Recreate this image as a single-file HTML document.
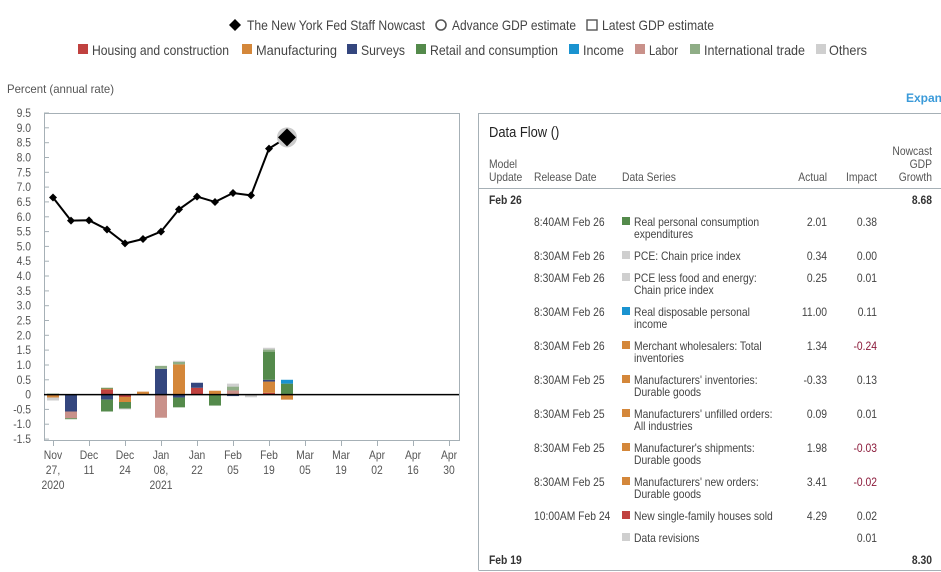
<!DOCTYPE html>
<html><head><meta charset="utf-8"><style>
body{margin:0;background:#fff;}
svg{display:block;font-family:"Liberation Sans Narrow","Liberation Sans",sans-serif;}
</style></head><body>
<svg id="s" width="941" height="572" xmlns="http://www.w3.org/2000/svg">
<g font-size="14" fill="#444">
<path d="M235 19 l6 6 -6 6 -6 -6z" fill="#000"/>
<text x="247" y="30" textLength="178" lengthAdjust="spacingAndGlyphs">The New York Fed Staff Nowcast</text>
<circle cx="441" cy="25" r="5" fill="none" stroke="#555" stroke-width="1.6"/>
<text x="452" y="30" textLength="124" lengthAdjust="spacingAndGlyphs">Advance GDP estimate</text>
<rect x="587" y="20" width="10" height="10" fill="none" stroke="#555" stroke-width="1.4"/>
<text x="602" y="30" textLength="112" lengthAdjust="spacingAndGlyphs">Latest GDP estimate</text>
</g>
<g font-size="14" fill="#444">
<rect x="78" y="44" width="10" height="10" fill="#c0413f"/><text x="92" y="55" textLength="137" lengthAdjust="spacingAndGlyphs">Housing and construction</text>
<rect x="242" y="44" width="10" height="10" fill="#d4873a"/><text x="256" y="55" textLength="81" lengthAdjust="spacingAndGlyphs">Manufacturing</text>
<rect x="347" y="44" width="10" height="10" fill="#34467e"/><text x="361" y="55" textLength="44" lengthAdjust="spacingAndGlyphs">Surveys</text>
<rect x="416" y="44" width="10" height="10" fill="#548a4b"/><text x="430" y="55" textLength="128" lengthAdjust="spacingAndGlyphs">Retail and consumption</text>
<rect x="569" y="44" width="10" height="10" fill="#1a93d0"/><text x="583" y="55" textLength="41" lengthAdjust="spacingAndGlyphs">Income</text>
<rect x="635" y="44" width="10" height="10" fill="#c9918a"/><text x="649" y="55" textLength="29" lengthAdjust="spacingAndGlyphs">Labor</text>
<rect x="690" y="44" width="10" height="10" fill="#8fad86"/><text x="704" y="55" textLength="101" lengthAdjust="spacingAndGlyphs">International trade</text>
<rect x="816" y="44" width="10" height="10" fill="#cfcfcf"/><text x="829" y="55" textLength="38" lengthAdjust="spacingAndGlyphs">Others</text>
</g>
<text x="7" y="93" font-size="12" fill="#555" textLength="107" lengthAdjust="spacingAndGlyphs">Percent (annual rate)</text>
<text x="906" y="102" font-size="12" fill="#3a9ad9" font-weight="bold">Expand</text>
<g id="chart"></g>
<g font-size="12" fill="#333" id="tbl">
<path d="M478.5 570 V113.5 H941 M478 188.5 H941" stroke="#a6b0b6" fill="none"/>
<path d="M478.5 570.5 H941" stroke="#a6b0b6"/>
<text x="489" y="137" font-size="15" fill="#222">Data Flow ()</text>
<g fill="#555">
<text x="489" y="168">Model</text><text x="489" y="181">Update</text>
<text x="534" y="181">Release Date</text><text x="622" y="181">Data Series</text>
<text x="827" y="181" text-anchor="end">Actual</text><text x="877" y="181" text-anchor="end">Impact</text>
<text x="932" y="155" text-anchor="end">Nowcast</text><text x="932" y="168" text-anchor="end">GDP</text><text x="932" y="181" text-anchor="end">Growth</text>
</g>
<text x="489" y="204" font-weight="bold">Feb 26</text><text x="932" y="204" text-anchor="end" font-weight="bold">8.68</text>
<text x="489" y="564" font-weight="bold">Feb 19</text><text x="932" y="564" text-anchor="end" font-weight="bold">8.30</text>
<g id="rows"></g>
</g>
</svg>
<script>
const NS="http://www.w3.org/2000/svg";
function el(p,t,a,txt){const e=document.createElementNS(NS,t);for(const k in a)e.setAttribute(k,a[k]);if(txt!==undefined)e.textContent=txt;p.appendChild(e);return e;}
const C={r:"#c0413f",o:"#d4873a",n:"#34467e",g:"#548a4b",b:"#1a93d0",p:"#c9918a",l:"#8fad86",y:"#cfcfcf"};
const ch=document.getElementById("chart");
const Z=394.6,K=29.64,Y=v=>Z-K*v;
el(ch,"path",{d:"M44.5 440 V113.5 H459.5 V440",stroke:"#a6b0b6",fill:"none"});
el(ch,"path",{d:"M44 440.5 H460",stroke:"#a6b0b6"});
for(let i=0;i<=22;i++){const v=-1.5+i*0.5;const y=Y(v);
 el(ch,"path",{d:`M44 ${y.toFixed(1)} H49`,stroke:"#a6b0b6"});
 el(ch,"text",{x:31,y:(y+4).toFixed(1),"font-size":12,fill:"#555","text-anchor":"end",class:"nw"},v===0?"0":v.toFixed(1));}
const xl=[["Nov","27,","2020"],["Dec","11"],["Dec","24"],["Jan","08,","2021"],["Jan","22"],["Feb","05"],["Feb","19"],["Mar","05"],["Mar","19"],["Apr","02"],["Apr","16"],["Apr","30"]];
xl.forEach((l,i)=>{const x=53+36*i;el(ch,"path",{d:`M${x+.5} 440 V446`,stroke:"#a6b0b6"});
 l.forEach((s,j)=>el(ch,"text",{x:x,y:459+j*15,"font-size":12,fill:"#555","text-anchor":"middle",class:"nw"},s));});
const bars=[
 [[["g",.03]],[["o",-.1],["y",-.1]]],
 [[["y",.02]],[["n",-.57],["p",-.23],["g",-.03]]],
 [[],[]],
 [[["r",.17],["o",.03],["g",.03]],[["n",-.17],["g",-.4]]],
 [[],[["r",-.08],["o",-.17],["g",-.22],["y",-.03]]],
 [[["o",.1]],[]],
 [[["n",.87],["l",.1]],[["p",-.78]]],
 [[["o",1.02],["l",.08],["y",.04]],[["n",-.1],["g",-.33]]],
 [[["r",.23],["n",.17]],[]],
 [[["o",.13]],[["g",-.37]]],
 [[["p",.14],["l",.13],["y",.1]],[["n",-.05]]],
 [[],[["y",-.09]]],
 [[["r",.06],["o",.38],["n",.06],["g",.95],["l",.07],["y",.06]],[]],
 [[["g",.37],["b",.13]],[["o",-.17]]]];
bars.forEach((b,i)=>{const x=53+18*i-6;b.forEach(side=>{let acc=0;side.forEach(([c,v])=>{const y1=Y(acc),y2=Y(acc+v);
 el(ch,"rect",{x:x,y:Math.min(y1,y2),width:12,height:Math.abs(y2-y1),fill:C[c]});acc+=v;});});});
el(ch,"path",{d:`M44 ${Z} H459`,stroke:"#000","stroke-width":1.5});
const vals=[6.65,5.87,5.88,5.57,5.1,5.25,5.5,6.25,6.68,6.5,6.8,6.72,8.3,8.68];
el(ch,"polyline",{points:vals.map((v,i)=>`${53+18*i},${Y(v).toFixed(1)}`).join(" "),fill:"none",stroke:"#000","stroke-width":2});
vals.slice(0,13).forEach((v,i)=>{const x=53+18*i,y=Y(v);el(ch,"path",{d:`M${x} ${y-4} l4 4 -4 4 -4 -4z`,fill:"#000"});});
{const x=287,y=Y(8.68);el(ch,"circle",{cx:x,cy:y,r:10,fill:"#ccc"});el(ch,"path",{d:`M${x} ${y-9} l9 9 -9 9 -9 -9z`,fill:"#000"});}
const rows=[
 [226,"8:40AM Feb 26","g",["Real personal consumption","expenditures"],"2.01","0.38"],
 [260,"8:30AM Feb 26","y",["PCE: Chain price index"],"0.34","0.00"],
 [282,"8:30AM Feb 26","y",["PCE less food and energy:","Chain price index"],"0.25","0.01"],
 [316,"8:30AM Feb 26","b",["Real disposable personal","income"],"11.00","0.11"],
 [350,"8:30AM Feb 26","o",["Merchant wholesalers: Total","inventories"],"1.34","-0.24"],
 [384,"8:30AM Feb 25","o",["Manufacturers' inventories:","Durable goods"],"-0.33","0.13"],
 [418,"8:30AM Feb 25","o",["Manufacturers' unfilled orders:","All industries"],"0.09","0.01"],
 [452,"8:30AM Feb 25","o",["Manufacturer's shipments:","Durable goods"],"1.98","-0.03"],
 [486,"8:30AM Feb 25","o",["Manufacturers' new orders:","Durable goods"],"3.41","-0.02"],
 [520,"10:00AM Feb 24","r",["New single-family houses sold"],"4.29","0.02"],
 [542,"","y",["Data revisions"],"","0.01"]];
const R=document.getElementById("rows");
rows.forEach(([y,d,c,s,a,im])=>{el(R,"text",{x:534,y:y,fill:"#444"},d);
 el(R,"rect",{x:622,y:y-9,width:8,height:8,fill:C[c]});
 s.forEach((t,j)=>el(R,"text",{x:634,y:y+j*12,fill:"#444"},t));
 el(R,"text",{x:827,y:y,"text-anchor":"end",fill:"#444"},a);
 el(R,"text",{x:877,y:y,"text-anchor":"end",fill:im.startsWith("-")?"#8b1a3a":"#444"},im);});
document.querySelectorAll("#tbl text, .nw").forEach(t=>{if(t.getAttribute("textLength")||!t.textContent)return;
 const w=t.getComputedTextLength();if(w>0){t.setAttribute("textLength",(w*0.86).toFixed(1));t.setAttribute("lengthAdjust","spacingAndGlyphs");}});
</script>
</body></html>
